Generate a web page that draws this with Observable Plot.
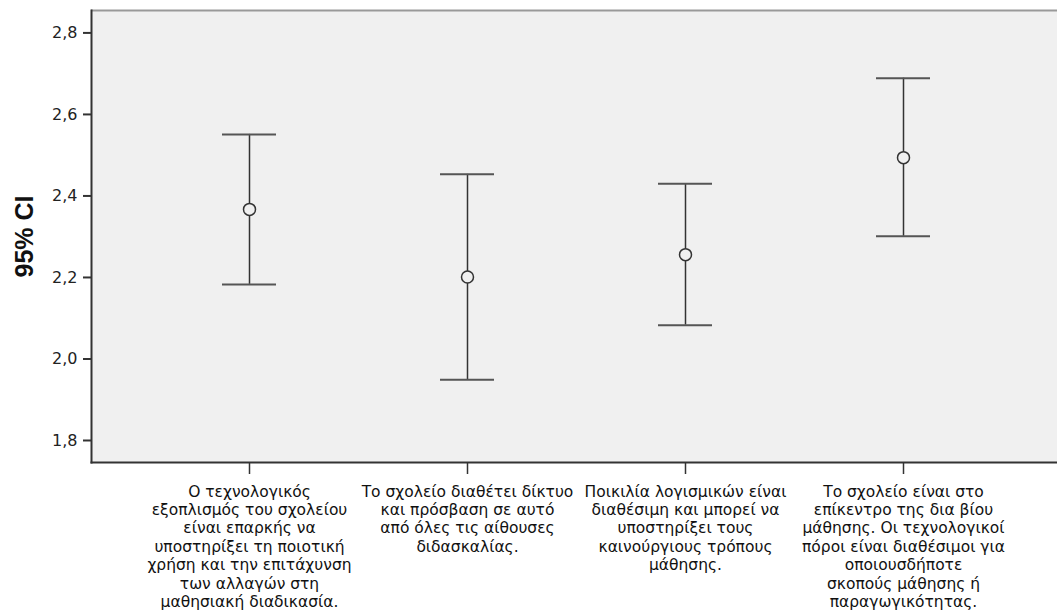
<!DOCTYPE html>
<html>
<head>
<meta charset="utf-8">
<script src="https://cdn.jsdelivr.net/npm/d3@7"></script>
<script src="https://cdn.jsdelivr.net/npm/@observablehq/plot@0.6"></script>
<style>
  html, body { margin: 0; padding: 0; background: #fff; }
  svg { display: block; }
</style>
</head>
<body>
<div id="chart"></div>
<script>
const categories = [
  "Ο τεχνολογικός\nεξοπλισμός του σχολείου\nείναι επαρκής να\nυποστηρίξει τη ποιοτική\nχρήση και την επιτάχυνση\nτων αλλαγών στη\nμαθησιακή διαδικασία.",
  "Το σχολείο διαθέτει δίκτυο\nκαι πρόσβαση σε αυτό\nαπό όλες τις αίθουσες\nδιδασκαλίας.",
  "Ποικιλία λογισμικών είναι\nδιαθέσιμη και μπορεί να\nυποστηρίξει τους\nκαινούργιους τρόπους\nμάθησης.",
  "Το σχολείο είναι στο\nεπίκεντρο της δια βίου\nμάθησης. Οι τεχνολογικοί\nπόροι είναι διαθέσιμοι για\nοποιουσδήποτε\nσκοπούς μάθησης ή\nπαραγωγικότητας."
];
const means = [2.367, 2.201, 2.256, 2.494];
const lower = [2.183, 1.949, 2.083, 2.301];
const upper = [2.551, 2.453, 2.430, 2.689];
const yTicks = [1.8, 2.0, 2.2, 2.4, 2.6, 2.8];
const yTitle = "95% CI";

const data = categories.map((c, i) => ({cat: c, mean: means[i], lo: lower[i], hi: upper[i]}));
const yDomain = [1.746, 2.855];
const font = "'DejaVu Sans', sans-serif";

const chart = Plot.plot({
  width: 1057,
  height: 613,
  marginLeft: 91,
  marginRight: 0,
  marginTop: 10,
  marginBottom: 151,
  style: {fontFamily: font, background: "#fff"},
  x: {type: "band", domain: categories, paddingInner: 0.753, paddingOuter: 0.585, align: 0.508},
  y: {domain: yDomain},
  marks: [
    Plot.frame({fill: "#f0f0f0", stroke: null}),
    Plot.ruleY([yDomain[1]], {stroke: "#999", strokeWidth: 2}),
    Plot.ruleX(data, {x: "cat", y1: "lo", y2: "hi", stroke: "#333", strokeWidth: 1.5}),
    Plot.tickY(data, {x: "cat", y: "lo", stroke: "#555", strokeWidth: 2}),
    Plot.tickY(data, {x: "cat", y: "hi", stroke: "#555", strokeWidth: 2}),
    Plot.dot(data, {x: "cat", y: "mean", r: 6, stroke: "#333", strokeWidth: 1.5, fill: "#f0f0f0"}),
    Plot.axisY({ticks: yTicks, tickSize: 8, tickPadding: 6, fontSize: 16, tickFormat: d => d.toFixed(1).replace(".", ","), label: null, stroke: "#333", strokeWidth: 2, fill: "#222"}),
    Plot.axisX({tickSize: 12, tickPadding: 9, fontSize: 15.5, tickFormat: d => d, label: null, lineHeight: 1.19, stroke: "#333", strokeWidth: 1.5, fill: "#111"}),
    Plot.frame({anchor: "left", stroke: "#333", strokeWidth: 2}),
    Plot.frame({anchor: "bottom", stroke: "#333", strokeWidth: 2}),
    Plot.text([yTitle], {frameAnchor: "left", dx: -67, rotate: -90, textAnchor: "middle", fontSize: 25, fontWeight: "bold", fontFamily: "'Liberation Sans', Arial, sans-serif", fill: "#111", text: d => d})
  ]
});
document.getElementById("chart").appendChild(chart);
</script>
</body>
</html>
